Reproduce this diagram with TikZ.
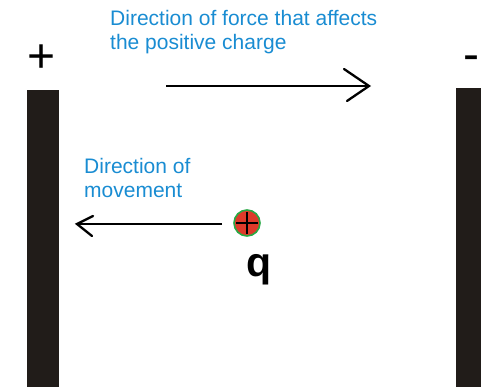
\documentclass[tikz,border=0pt]{standalone}
\usepackage{fontspec}
\setmainfont{Liberation Sans}
\begin{document}
\begin{tikzpicture}[x=1pt,y=-1pt,
  plate/.style={fill=platecol,draw=none},
  caption/.style={anchor=base west,inner sep=0pt,text=capcol,font=\fontsize{21}{24}\selectfont,align=left},
  sign/.style={anchor=base,inner sep=0pt,font=\fontsize{48}{48}\selectfont},
  shaft/.style={line width=1.4pt,black},
  barb/.style={line width=2.3pt,black,line cap=round,line join=miter}]
\definecolor{platecol}{RGB}{33,28,25}
\definecolor{capcol}{RGB}{25,140,210}
\definecolor{chargered}{RGB}{222,58,42}
\definecolor{chargegreen}{RGB}{40,170,70}
\useasboundingbox (0,0) rectangle (481,387);

% capacitor plates
\fill[plate] (27,90) rectangle (59,387);
\fill[plate] (456,88) rectangle (481,387);
\node[sign] (plus) at (41.5,72.5) {+};
\node[sign] (minus) at (471,70.5) {-};

% force arrow (caption anchored on its last line)
\node[caption] (forcetxt) at (110,50) {Direction of force that affects\\the positive charge};
\coordinate (fstart) at (166,86);
\coordinate (ftip) at (369,86);
\coordinate (fb1) at (344,69);
\coordinate (fb2) at (347,101);
\draw[shaft] (fstart) -- (ftip);
\draw[barb] (fb1) -- (ftip) -- (fb2);

% movement arrow
\node[caption] (movetxt) at (84,197) {Direction of\\movement};
\coordinate (mstart) at (222,224);
\coordinate (mtip) at (77,224);
\coordinate (mb1) at (93,216);
\coordinate (mb2) at (92,236);
\draw[shaft] (mstart) -- (mtip);
\draw[barb] (mb1) -- (mtip) -- (mb2);

% test charge
\node[circle,fill=chargered,draw=chargegreen,line width=1.6pt,minimum size=26pt,inner sep=0pt] (charge) at (247,223) {};
\draw[line width=2.6pt] ([xshift=-11pt]charge.center) -- ([xshift=11pt]charge.center);
\draw[line width=2.6pt] ([yshift=-11pt]charge.center) -- ([yshift=11pt]charge.center);
\node[anchor=base west,inner sep=0pt,font=\fontsize{41}{41}\bfseries\selectfont] (qlabel) at (246,276) {q};
\end{tikzpicture}
\end{document}
